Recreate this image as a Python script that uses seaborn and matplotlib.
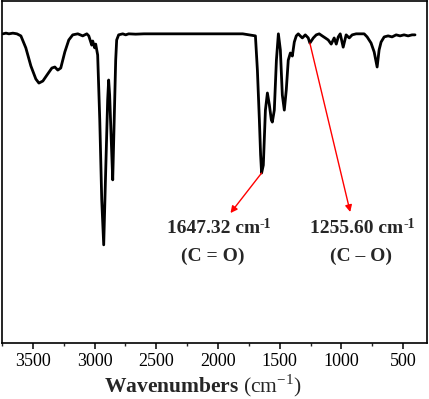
import numpy as np
import pandas as pd
import matplotlib
matplotlib.use('Agg')
import matplotlib.pyplot as plt
import seaborn as sns

# FTIR spectrum (wavenumber in cm-1, transmittance in %)
wavenumber = [3742, 3718, 3694, 3662, 3629, 3597, 3557, 3516, 3476, 3451,
              3419, 3379, 3346, 3322, 3298, 3274, 3241, 3209, 3177, 3136,
              3096, 3063, 3047, 3023, 3015, 2999, 2991, 2975, 2958, 2942,
              2926, 2910, 2894, 2886, 2878, 2865, 2853, 2845, 2837, 2829,
              2821, 2805, 2772, 2748, 2724, 2667, 2600, 2400, 2200, 2000,
              1800, 1697, 1681, 1665, 1655, 1647, 1633, 1616, 1600, 1584,
              1568, 1560, 1544, 1527, 1511, 1495, 1479, 1463, 1447, 1431,
              1414, 1398, 1382, 1366, 1350, 1334, 1317, 1293, 1269, 1256,
              1228, 1204, 1180, 1156, 1131, 1107, 1083, 1059, 1042, 1026,
              1010, 986, 962, 937, 913, 881, 848, 816, 792, 760,
              735, 711, 695, 679, 654, 622, 590, 557, 525, 493,
              460, 428, 404]
transmittance = [90.4, 90.6, 90.4, 90.6, 90.4, 89.8, 86.3, 81.0, 77.2, 76.0,
                 76.6, 78.7, 80.4, 80.7, 79.8, 80.4, 85.1, 88.6, 90.1, 90.4,
                 89.8, 90.4, 89.8, 87.1, 88.3, 86.3, 87.4, 84.2, 65.2, 41.8,
                 28.7, 50.3, 71.1, 76.9, 72.5, 59.4, 47.7, 59.4, 71.1, 82.7,
                 88.6, 90.1, 90.4, 90.1, 90.4, 90.3, 90.4, 90.4, 90.4, 90.4,
                 90.4, 89.8, 79.8, 65.2, 55.0, 49.7, 52.0, 68.1, 73.1, 69.6,
                 65.2, 64.6, 68.1, 82.7, 90.4, 85.7, 72.5, 68.1, 74.0, 82.7,
                 84.8, 83.9, 88.0, 89.8, 90.4, 89.8, 89.2, 90.1, 89.2, 87.7,
                 89.2, 90.1, 90.4, 89.8, 89.2, 88.6, 87.4, 89.2, 87.4, 89.5,
                 90.4, 86.5, 90.1, 89.2, 90.1, 90.4, 90.4, 90.4, 89.5, 87.7,
                 85.1, 80.7, 85.7, 88.0, 89.5, 89.8, 89.5, 90.1, 89.8, 90.1,
                 89.8, 90.1, 90.1]

peak_labels = ['1647.32 cm', '1255.60 cm']
bond_labels = ['(C = O)', '(C \u2013 O)']
peak_pos = [1647, 1256]
peak_T = [49.7, 87.7]

df = pd.DataFrame({'wavenumber': wavenumber, 'T': transmittance})

sns.set_style('ticks')
plt.rcParams['font.family'] = ['Liberation Serif', 'DejaVu Serif']
plt.rcParams['mathtext.fontset'] = 'custom'
plt.rcParams['mathtext.rm'] = 'Liberation Serif'
plt.rcParams['mathtext.bf'] = 'Liberation Serif:bold'

fig, ax = plt.subplots(figsize=(4.29, 3.99), dpi=100)
fig.subplots_adjust(left=2 / 429, right=427 / 429, bottom=1 - 343 / 399, top=1 - 1 / 399)

sns.lineplot(data=df, x='wavenumber', y='T', ax=ax, color='black',
             linewidth=2.0, estimator=None, sort=False)

ax.set_xlim(3742, 307)
ax.set_ylim(0, 100)
ax.set_xticks([3500, 3000, 2500, 2000, 1500, 1000, 500])
ax.set_xticks(np.arange(3750, 300, -250), minor=True)
ax.set_yticks([])
ax.tick_params(axis='x', which='major', direction='out', length=4, width=1.1,
               labelsize=13, pad=3.5, colors='black')
ax.tick_params(axis='x', which='minor', direction='out', length=2.5, width=1.0)
for s in ax.spines.values():
    s.set_visible(True)
    s.set_linewidth(1.2)
    s.set_color('black')

ax.set_xlabel('$\\mathbf{Wavenumbers}$ (cm$^{-1}$)', fontsize=15.5)
ax.xaxis.label.set_verticalalignment('center')
ax.xaxis.set_label_coords(0.472, -0.126)
ax.set_ylabel('')

# annotations with red arrows
text_x = [2040, 878]
bond_x = [2045, 840]
tips = [(1899, 38.0), (929, 38.3)]
for lab, bond, px, pt, tx, bx, tip in zip(peak_labels, bond_labels, peak_pos, peak_T,
                                          text_x, bond_x, tips):
    ax.annotate('', xy=tip, xytext=(px, pt),
                arrowprops=dict(arrowstyle='-|>', color='red', lw=1.0,
                                mutation_scale=10, shrinkA=0, shrinkB=0))
    t = ax.text(tx, 33.4, lab, ha='center', va='center', fontsize=14, fontweight='bold')
    ax.annotate('-1', xy=(1.0, 0.78), xycoords=t, ha='left', va='center',
                fontsize=10, fontweight='bold')
    ax.text(bx, 25.4, bond, ha='center', va='center', fontsize=14, fontweight='bold')

fig.savefig('out.png', dpi=100)
